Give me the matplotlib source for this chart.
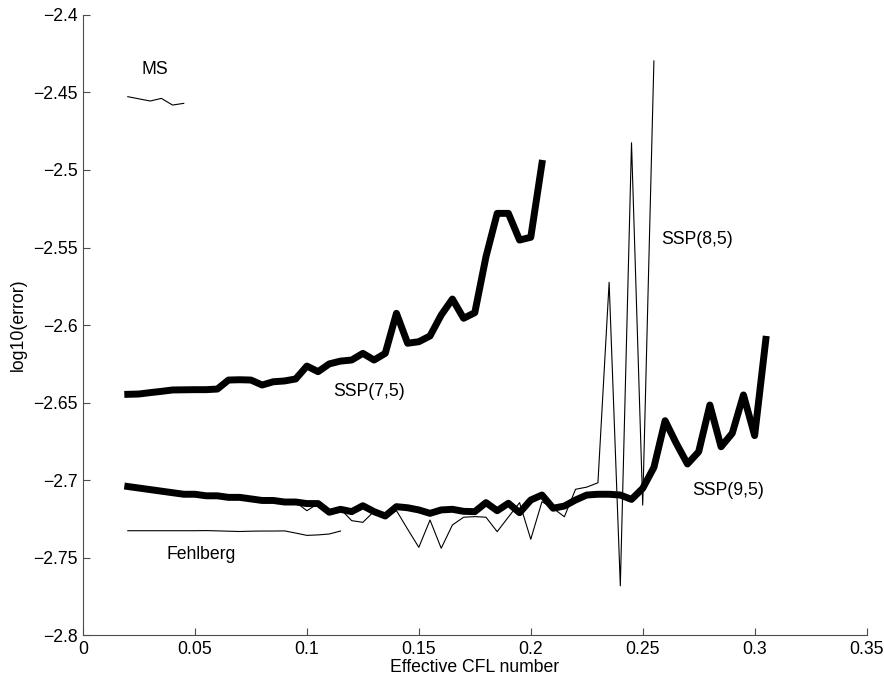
import matplotlib
matplotlib.use("Agg")
import matplotlib.pyplot as plt

plt.rcParams["font.family"] = ["Liberation Sans", "DejaVu Sans"]
plt.rcParams["font.size"] = 12.7

# CFL grid used by the runs (step 0.005)
x_ssp75 = [0.02, 0.025, 0.03, 0.035, 0.04, 0.045, 0.05, 0.055, 0.06, 0.065,
           0.07, 0.075, 0.08, 0.085, 0.09, 0.095, 0.1, 0.105, 0.11, 0.115,
           0.12, 0.125, 0.13, 0.135, 0.14, 0.145, 0.15, 0.155, 0.16, 0.165,
           0.17, 0.175, 0.18, 0.185, 0.19, 0.195, 0.2, 0.205]
ssp75 = [-2.6446, -2.6444, -2.6435, -2.6427, -2.6418, -2.6417, -2.6416, -2.6416,
         -2.6412, -2.6354, -2.6352, -2.6354, -2.6386, -2.6365, -2.6360, -2.6347,
         -2.6264, -2.6300, -2.6250, -2.6232, -2.6225, -2.6182, -2.6225, -2.6182,
         -2.5924, -2.6117, -2.6107, -2.6070, -2.5935, -2.5832, -2.5956, -2.5920,
         -2.5559, -2.5280, -2.5280, -2.5452, -2.5434, -2.4958]

x_ssp95 = [0.02, 0.025, 0.03, 0.035, 0.04, 0.045, 0.05, 0.055, 0.06, 0.065,
           0.07, 0.075, 0.08, 0.085, 0.09, 0.095, 0.1, 0.105, 0.11, 0.115,
           0.12, 0.125, 0.13, 0.135, 0.14, 0.145, 0.15, 0.155, 0.16, 0.165,
           0.17, 0.175, 0.18, 0.185, 0.19, 0.195, 0.2, 0.205, 0.21, 0.215,
           0.22, 0.225, 0.23, 0.235, 0.24, 0.245, 0.25, 0.255, 0.26, 0.265,
           0.27, 0.275, 0.28, 0.285, 0.29, 0.295, 0.3, 0.305]
ssp95 = [-2.7040, -2.7050, -2.7060, -2.7070, -2.7080, -2.7090, -2.7090, -2.7100,
         -2.7100, -2.7110, -2.7110, -2.7120, -2.7130, -2.7130, -2.7140, -2.7140,
         -2.7150, -2.7150, -2.7206, -2.7187, -2.7202, -2.7164, -2.7202, -2.7230,
         -2.7170, -2.7177, -2.7191, -2.7213, -2.7191, -2.7187, -2.7200, -2.7202,
         -2.7144, -2.7196, -2.7148, -2.7209, -2.7127, -2.7095, -2.7180, -2.7166,
         -2.7127, -2.7095, -2.7090, -2.7090, -2.7095, -2.7123, -2.7052, -2.6917,
         -2.6616, -2.6762, -2.6895, -2.6816, -2.6515, -2.6784, -2.6697, -2.6450,
         -2.6712, -2.6092]

x_ssp85 = [0.02, 0.025, 0.03, 0.035, 0.04, 0.045, 0.05, 0.055, 0.06, 0.065,
           0.07, 0.075, 0.08, 0.085, 0.09, 0.095, 0.1, 0.105, 0.11, 0.115,
           0.12, 0.125, 0.13, 0.135, 0.14, 0.145, 0.15, 0.155, 0.16, 0.165,
           0.17, 0.175, 0.18, 0.185, 0.19, 0.195, 0.2, 0.205, 0.21, 0.215,
           0.22, 0.225, 0.23, 0.235, 0.24, 0.245, 0.25, 0.255]
ssp85 = [-2.7040, -2.7050, -2.7060, -2.7070, -2.7080, -2.7090, -2.7090, -2.7100,
         -2.7100, -2.7110, -2.7110, -2.7120, -2.7130, -2.7130, -2.7140, -2.7140,
         -2.7196, -2.7150, -2.7190, -2.7185, -2.7260, -2.7271, -2.7200, -2.7245,
         -2.7195, -2.7315, -2.7432, -2.7256, -2.7438, -2.7288, -2.7238, -2.7234,
         -2.7238, -2.7331, -2.7237, -2.7144, -2.7380, -2.7138, -2.7180, -2.7235,
         -2.7058, -2.7044, -2.7016, -2.5724, -2.7680, -2.4825, -2.7160, -2.4298]

x_fehlberg = [0.02, 0.025, 0.03, 0.035, 0.04, 0.045, 0.05, 0.055, 0.06, 0.065,
              0.07, 0.075, 0.08, 0.085, 0.09, 0.095, 0.1, 0.105, 0.11, 0.115]
fehlberg = [-2.7325, -2.7325, -2.7325, -2.7325, -2.7325, -2.7325, -2.7325, -2.7324,
            -2.7326, -2.7328, -2.7330, -2.7328, -2.7327, -2.7327, -2.7326, -2.7340,
            -2.7355, -2.7352, -2.7346, -2.7327]

x_ms = [0.02, 0.025, 0.03, 0.035, 0.04, 0.045]
ms = [-2.4528, -2.4542, -2.4556, -2.4539, -2.4582, -2.4571]

xticks = [0, 0.05, 0.1, 0.15, 0.2, 0.25, 0.3, 0.35]
xtick_labels = ["0", "0.05", "0.1", "0.15", "0.2", "0.25", "0.3", "0.35"]
yticks = [-2.8, -2.75, -2.7, -2.65, -2.6, -2.55, -2.5, -2.45, -2.4]
ytick_labels = ["\u22122.8", "\u22122.75", "\u22122.7", "\u22122.65", "\u22122.6",
                "\u22122.55", "\u22122.5", "\u22122.45", "\u22122.4"]

fig = plt.figure(figsize=(8.84, 6.79), dpi=100)
ax = fig.add_axes([0.0939, 0.0641, 0.8864, 0.9142])

ax.plot(x_ssp85, ssp85, color="black", linewidth=0.8)
ax.plot(x_fehlberg, fehlberg, color="black", linewidth=0.8)
ax.plot(x_ms, ms, color="black", linewidth=0.8)
ax.plot(x_ssp75, ssp75, color="black", linewidth=5)
ax.plot(x_ssp95, ssp95, color="black", linewidth=5)

ax.text(0.0322, -2.435, "MS", ha="center", va="center")
ax.text(0.1278, -2.6428, "SSP(7,5)", ha="center", va="center")
ax.text(0.2741, -2.5447, "SSP(8,5)", ha="center", va="center")
ax.text(0.288, -2.7063, "SSP(9,5)", ha="center", va="center")
ax.text(0.053, -2.748, "Fehlberg", ha="center", va="center")

ax.set_xlim(0, 0.35)
ax.set_ylim(-2.8, -2.4)
ax.set_xticks(xticks)
ax.set_xticklabels(xtick_labels)
ax.set_yticks(yticks)
ax.set_yticklabels(ytick_labels)
ax.tick_params(direction="in", length=5, width=0.8, pad=4, colors="0.3", labelcolor="black")
ax.spines["top"].set_visible(False)
ax.spines["right"].set_visible(False)
for s in ("left", "bottom"):
    ax.spines[s].set_color("0.3")
    ax.spines[s].set_linewidth(0.8)

ax.set_xlabel("Effective CFL number", labelpad=1)
ax.set_ylabel("log10(error)")

fig.savefig("out.png", dpi=100)
plt.close(fig)
